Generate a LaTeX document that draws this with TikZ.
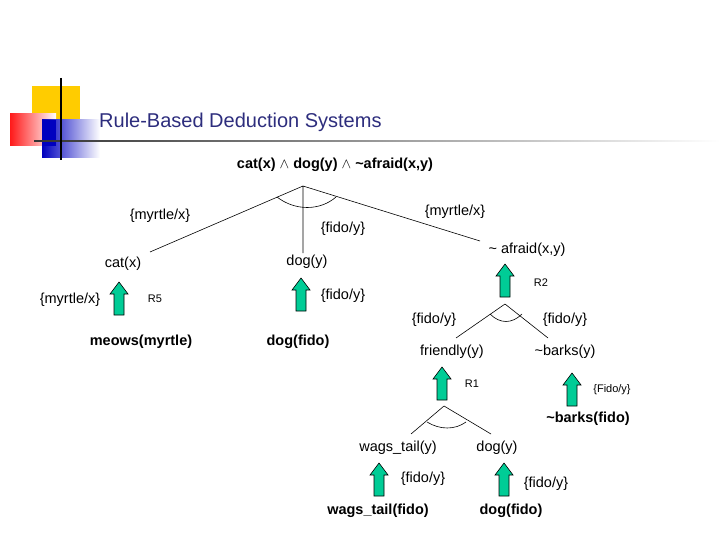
\documentclass[tikz,border=0pt]{standalone}
\usepackage{fontspec}
\setmainfont{Liberation Sans}
\definecolor{ttl}{RGB}{45,45,125}
\definecolor{grn}{RGB}{0,204,150}
\definecolor{ylw}{RGB}{255,204,0}
\begin{document}
\begin{tikzpicture}[x=1pt,y=-1pt,
  lbl/.style={inner sep=0pt,font=\fontsize{14.5}{16}\selectfont},
  blbl/.style={inner sep=0pt,font=\fontsize{14.5}{16}\selectfont\bfseries},
  sml/.style={inner sep=0pt,font=\fontsize{11}{13}\selectfont},
  edge/.style={line width=0.6pt},
  garrow/.pic={\draw[fill=grn,line width=0.6pt] (-5,0)--(-5,-21)--(-9,-21)--(0,-33)--(9,-21)--(5,-21)--(5,0)--cycle;}]
\useasboundingbox (0,0) rectangle (720,540);
% logo
\fill[ylw] (32,86) rectangle (80,125);
\shade[left color=red!90, right color=white] (10,114) rectangle (56,146);
\shade[left color=blue!75!black, right color=white] (42,120) rectangle (100,158);
\fill[blue!75!black] (42,120) rectangle (56,146);
\shade[left color=black!80, right color=white] (34,140.5) rectangle (720,142);
\draw[line width=1.2pt] (61,78)--(61,160);
\node[anchor=west,inner sep=0pt,text=ttl,font=\fontsize{20}{24}\selectfont] (title) at (99,122) {Rule-Based Deduction Systems};
% top
\node[blbl] (top) at (335,165) {cat(x) $\wedge$ dog(y) $\wedge$ \textasciitilde afraid(x,y)};
\coordinate (a1) at (303,186);
\node[lbl] (cat) at (123,264) {cat(x)};
\node[lbl] (dog) at (307,262) {dog(y)};
\node[lbl] (afr) at (527,250) {\textasciitilde\ afraid(x,y)};
\draw[edge] (a1)--(150,252) (a1)--(303,253) (a1)--(480,241);
\draw[edge] (277,197) .. controls (295,211) and (320,211) .. (336,197);
\node[lbl] (m1) at (160,216) {\{myrtle/x\}};
\node[lbl] (f1) at (343,229) {\{fido/y\}};
\node[lbl] (m2) at (455,212) {\{myrtle/x\}};
\pic at (119,315) {garrow};
\pic at (301,311) {garrow};
\pic at (505,297) {garrow};
\node[lbl] (m3) at (70,300) {\{myrtle/x\}};
\node[sml] (r5) at (155,299) {R5};
\node[lbl] (f2) at (343,296) {\{fido/y\}};
\node[sml] (r2) at (541,283) {R2};
\node[blbl] (meows) at (141,342) {meows(myrtle)};
\node[blbl] (dogf) at (298,342) {dog(fido)};
% second
\coordinate (a2) at (505,304);
\draw[edge] (a2)--(456,338) (a2)--(548,338);
\draw[edge] (490,314) .. controls (500,324) and (512,324) .. (522,314);
\node[lbl] (f3) at (434,320) {\{fido/y\}};
\node[lbl] (f4) at (565,320) {\{fido/y\}};
\node[lbl] (fr) at (452,352) {friendly(y)};
\node[lbl] (nb) at (565,352) {\textasciitilde barks(y)};
\pic at (442,400) {garrow};
\pic at (572,406) {garrow};
\node[sml] (r1) at (472,384) {R1};
\node[sml] (fi) at (612,390) {\{Fido/y\}};
\node[blbl] (nbf) at (588,419) {\textasciitilde barks(fido)};
% third
\coordinate (a3) at (444,406);
\draw[edge] (a3)--(411,434) (a3)--(491,434);
\draw[edge] (427,422) .. controls (440,430) and (455,430) .. (466,422);
\node[lbl] (wt) at (398,448) {wags\_tail(y)};
\node[lbl] (dy) at (497,448) {dog(y)};
\pic at (379,496) {garrow};
\pic at (504,496) {garrow};
\node[lbl] (f5) at (423,479) {\{fido/y\}};
\node[lbl] (f6) at (546,484) {\{fido/y\}};
\node[blbl] (wtf) at (378,511) {wags\_tail(fido)};
\node[blbl] (df2) at (511,511) {dog(fido)};
\end{tikzpicture}
\end{document}
